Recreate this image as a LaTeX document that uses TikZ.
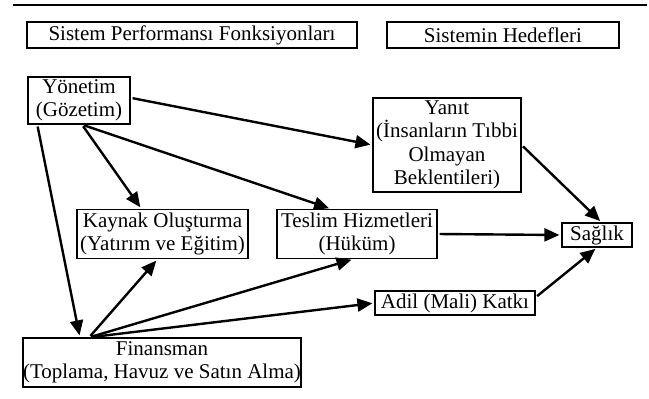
\documentclass[tikz,border=0pt]{standalone}
\usepackage{fontspec}
\setmainfont{Liberation Serif}
\usepackage{tikz}
\usetikzlibrary{arrows.meta}
\tikzstyle{block} = [
    rectangle, draw=black, line width=1.2pt, inner sep=0pt,
    align=center, font=\fontsize{21}{23.5}\selectfont
]
\tikzstyle{arrow} = [-{Triangle[length=15pt, width=13pt]}, line width=2.4pt,
    shorten >=2pt, shorten <=2pt]

\begin{document}
\begin{tikzpicture}[x=1pt, y=-1pt]
        \useasboundingbox (0,0) rectangle (649,399);
        % Top rule
        \draw[line width=2.5pt] (13,5) -- (647,5);

        % Headings
        \node[block, minimum width=330pt, minimum height=26pt] (funcs)
            at (192,35) {Sistem Performansı Fonksiyonları};
        \node[block, minimum width=232pt, minimum height=26pt] (goals)
            at (503,35) {Sistemin Hedefleri};

        % Functions
        \node[block, minimum width=102pt, minimum height=47pt] (yon)
            at (79,100.5) {Yönetim\\(Gözetim)};
        \node[block, minimum width=171pt, minimum height=49pt] (kaynak)
            at (162.5,234) {Kaynak Oluşturma\\(Yatırım ve Eğitim)};
        \node[block, minimum width=160pt, minimum height=49pt] (teslim)
            at (357,234) {Teslim Hizmetleri\\(Hüküm)};
        \node[block, minimum width=268pt, minimum height=49pt] (finans)
            at (162,362.5) {Finansman\\(Toplama, Havuz ve Satın Alma)};

        % Goals
        \node[block, minimum width=148pt, minimum height=94pt] (yanit)
            at (447,145) {Yanıt\\(İnsanların Tıbbi\\Olmayan\\Beklentileri)};
        \node[block, minimum width=160pt, minimum height=24pt] (adil)
            at (455,303) {Adil (Mali) Katkı};
        \node[block, minimum width=70pt, minimum height=24pt] (saglik)
            at (597,235) {Sağlık};

        % Arrows
        \draw[arrow] (yon.3) -- (yanit.west);
        \draw[arrow] (yon.277) -- (kaynak.130);
        \draw[arrow] (yon.277) -- (teslim.136);
        \draw[arrow] (yon.210) -- (finans.163);
        \draw[arrow] (finans.161) -- (kaynak.259);
        \draw[arrow] (finans.161) -- (teslim.262);
        \draw[arrow] (finans.161) -- (adil.west);
        \draw[arrow] (teslim.east) -- (saglik.west);
        \draw[arrow] (yanit.east) -- (saglik.70);
        \draw[arrow] (adil.4) -- (saglik.south);
    \end{tikzpicture}
\end{document}
